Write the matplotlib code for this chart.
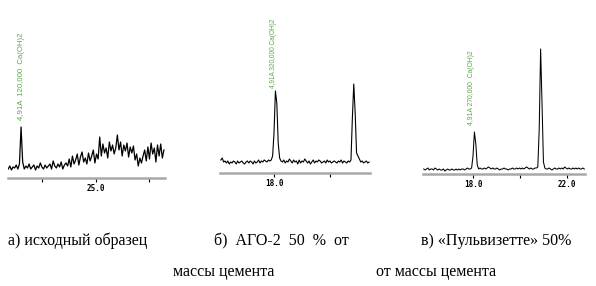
import numpy as np
import matplotlib
matplotlib.use("Agg")
import matplotlib.pyplot as plt

W, H = 596, 286

# --- scan data (2theta in degrees, intensity) ---

# a) initial sample
a_start, a_step = 16.8, 0.15
a_counts = [9, 12, 8, 11, 10, 13, 9, 14, 51, 16,
            9, 12, 10, 14, 9, 11, 13, 8, 12, 10, 15, 11,
            9, 13, 10, 12, 14, 9, 17, 12,
            10, 14, 11, 16, 9, 13,
            15, 12, 19, 11, 22, 14, 18, 24, 13, 21, 26, 16,
            20, 14, 25, 17, 22, 28, 15, 24, 19,
            41,
            22, 34, 25, 30, 20, 36, 27, 33, 24, 30,
            43,
            28, 36, 22, 33, 27, 35, 21, 31, 25, 32,
            18, 24, 12, 20, 15,
            22, 28, 17,
            31, 19, 35, 24, 30, 16, 33, 22, 34, 20, 28]

# b) AGO-2, 50 % of cement mass
b_start, b_step = 16.10, 0.05
b_counts = [13, 15, 11, 12, 10, 12, 9, 11, 10, 12,
            11, 9, 12, 10, 11, 12, 10, 9, 11, 12,
            10, 12, 11, 9, 12, 10, 11, 13, 10, 12,
            11, 13, 12, 11, 13, 12,
            13, 17, 40, 82, 70, 30, 15,
            12, 11, 13, 10, 12, 11, 14, 12, 10, 13,
            11, 12, 9, 13, 10, 12, 11, 14, 12, 10,
            12, 9, 11, 13, 10, 12, 11, 13, 12, 10,
            11, 12, 10, 13, 11, 12, 10, 11, 12, 11,
            10, 12, 11, 13, 10, 12, 11, 10, 12, 11, 13,
            55, 89, 60, 20, 17, 14, 11,
            12, 10, 11, 12, 10, 11]

# c) Pulverisette, 50 % of cement mass
c_start, c_step = 15.90, 0.06
c_counts = [5, 4, 5, 6, 4, 5, 5, 4, 6, 5,
            4, 5, 4, 4, 5, 3, 4, 5, 4, 4,
            5, 4, 4, 5, 4, 5, 4, 5, 5, 4,
            5, 6, 5, 5,
            6, 18, 42, 30, 9, 5,
            6, 5, 5, 6, 5, 6, 7, 6, 5, 6,
            5, 5, 6, 5, 4, 5, 5, 6, 5, 5,
            4, 5, 5, 6, 5, 5, 6, 5, 6, 5,
            6, 5, 6, 7, 6, 5, 6, 5, 5, 6, 6,
            7, 45, 125, 70, 12, 6,
            5, 5, 6, 5, 4, 5, 6, 5, 5, 6,
            5, 6, 5, 7, 6, 5, 6, 5, 5, 6,
            5, 6, 5, 6, 5, 5, 6, 5]

peak_pos = [18.05, 17.97, 17.95]
peak_height = [58, 85, 49]
peak_labels = ["4,91A  120,000  Ca(OH)2",
               "4,91A 320,000 Ca(OH)2",
               "4,91A 270,000  Ca(OH)2"]

captions = ["а) исходный образец", "б)  АГО-2  50  %  от", "в) «Пульвизетте» 50%",
            "массы цемента", "от массы цемента"]

GREEN = "#5aa846"

fig = plt.figure(figsize=(W / 100, H / 100), dpi=100)


def add_panel(x0, x1, y_axis, y_top, xlim, ylim):
    ax = fig.add_axes([x0 / W, 1 - y_axis / H, (x1 - x0) / W, (y_axis - y_top) / H])
    ax.set_xlim(*xlim)
    ax.set_ylim(*ylim)
    ax.patch.set_alpha(0)
    for s in ["top", "left", "right"]:
        ax.spines[s].set_visible(False)
    ax.spines["bottom"].set_color("#a8a8a8")
    ax.spines["bottom"].set_linewidth(1.8)
    ax.set_yticks([])
    ax.tick_params(axis="x", direction="out", length=3, width=0.8, pad=1.5,
                   labelsize=5.5, colors="black")
    return ax


panels = [
    dict(px=(8, 165, 178, 100), xlim=(16.78, 31.45), ylim=(0, 78),
         start=a_start, step=a_step, counts=a_counts, lw=0.9,
         ticks=[20, 25, 30], tlabels=["", "25.0", ""]),
    dict(px=(220, 370, 173, 73), xlim=(16.07, 21.43), ylim=(0, 100),
         start=b_start, step=b_step, counts=b_counts, lw=0.8,
         ticks=[18, 20], tlabels=["18.0", ""]),
    dict(px=(423, 585, 174, 40), xlim=(15.87, 22.77), ylim=(0, 134),
         start=c_start, step=c_step, counts=c_counts, lw=0.75,
         ticks=[18, 20, 22], tlabels=["18.0", "", "22.0"]),
]

for i, p in enumerate(panels):
    ax = add_panel(*p["px"], p["xlim"], p["ylim"])
    tt = p["start"] + p["step"] * np.arange(len(p["counts"]))
    ax.plot(tt, p["counts"], color="black", lw=p["lw"])
    ax.set_xticks(p["ticks"])
    ax.set_xticklabels(p["tlabels"], family="DejaVu Sans Mono", weight="bold")
    fs = [5.6, 4.7, 4.9][i]
    ax.text(peak_pos[i], peak_height[i], peak_labels[i], rotation=90,
            ha="center", va="bottom", color=GREEN, fontsize=fs,
            family="Liberation Sans")

# captions under the panels
cap_pos = [(8, 245), (214, 245), (421, 245), (173, 276), (376, 276)]
for txt, (x, y) in zip(captions, cap_pos):
    fig.text(x / W, 1 - y / H, txt, ha="left", va="baseline",
             family="Liberation Serif", fontsize=11.5, color="black")

fig.savefig("out.png", dpi=100)
